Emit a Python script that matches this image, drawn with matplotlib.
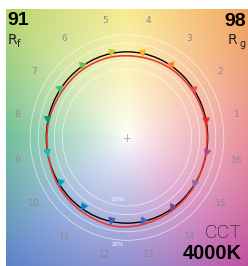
import numpy as np
import matplotlib
matplotlib.use("Agg")
import matplotlib.pyplot as plt
from matplotlib.path import Path
from matplotlib.patches import PathPatch, Circle

# TM-30 Kennwerte
rf_value = "91"
rg_value = "98"
cct_label = "4000K"

# 16 Hue-Bins: Chroma-Verhaeltnis Test/Referenz und Hue-Verschiebung
hue_bins = list(range(1, 17))
chroma_ratio = [0.99, 0.98, 0.97, 0.955, 0.96, 0.965, 0.97, 0.99,
                1.00, 1.02, 1.03, 1.045, 1.035, 1.02, 1.01, 0.995]
hue_shift_deg = [-3, -3, -2, -1, 1, 2, 2, 2, 2, 1, 0, 0, -2, -2, -2, -2]
bin_colors = ["#E62828", "#E74B4B", "#FB812E", "#FFB529", "#CBCA46", "#7EB94C",
              "#41C06D", "#009C7C", "#16BCB0", "#00A4BF", "#0085C3", "#3B62AA",
              "#4568AE", "#6A4E85", "#9D69A1", "#A74F81"]

ring_radii = [0.8, 0.9, 1.1, 1.2]

# Hintergrundfarben (Winkel in Grad, RGB bei voller Saettigung)
bg_angles = [0, 45, 90, 135, 180, 225, 270, 315, 360]
bg_rgb = [(225, 109, 122), (242, 163, 90), (246, 229, 109), (181, 212, 106),
          (65, 171, 122), (90, 130, 200), (107, 107, 193), (192, 79, 160), (225, 109, 122)]

W, H = 248, 266
fig = plt.figure(figsize=(W / 100, H / 100), dpi=100)
ax = fig.add_axes([6 / W, 0, 242 / W, 257 / H])
ax.set_xlim(-1.5, 1.5)
ax.set_ylim(-1.5, 1.5)
ax.axis("off")

# Hintergrund
n = 300
xs = np.linspace(-1.5, 1.5, n)
X, Y = np.meshgrid(xs, xs[::-1])
R = np.hypot(X, Y)
A = np.degrees(np.arctan2(Y, X)) % 360
bg = np.array(bg_rgb, dtype=float) / 255
img = np.zeros((n, n, 3))
for k in range(3):
    img[..., k] = np.interp(A, bg_angles, bg[:, k])
s = np.clip(R / 2.12, 0, 1) ** 0.8
img = 1 - s[..., None] * (1 - img)
ax.imshow(img, extent=(-1.5, 1.5, -1.5, 1.5), aspect="auto", zorder=0)

# Ringe
for r in ring_radii:
    ax.add_patch(Circle((0, 0), r, fill=False, ec="white", lw=0.6, alpha=0.6, zorder=1))
ax.text(-0.11, -0.72, "-20%", color="white", fontsize=4, ha="center", va="center", zorder=2)
ax.text(-0.11, -1.25, "20%", color="white", fontsize=4, ha="center", va="center", zorder=2)
ax.plot([-0.04, 0.04], [0, 0], color="#aaaaaa", lw=0.6)
ax.plot([0, 0], [-0.04, 0.04], color="#aaaaaa", lw=0.6)

# Referenzkreis
ax.add_patch(Circle((0, 0), 1.0, fill=False, ec="black", lw=1.0, zorder=3))

# Testkurve
theta = np.radians(11.25 + 22.5 * np.arange(16))
theta_t = theta + np.radians(hue_shift_deg)
cr = np.array(chroma_ratio)
tx = cr * np.cos(theta_t)
ty = cr * np.sin(theta_t)
pts = np.column_stack([tx, ty])
verts = [pts[0]]
codes = [Path.MOVETO]
for i in range(16):
    p0, p1, p2, p3 = pts[i - 1], pts[i], pts[(i + 1) % 16], pts[(i + 2) % 16]
    verts += [p1 + (p2 - p0) / 6, p2 - (p3 - p1) / 6, p2]
    codes += [Path.CURVE4] * 3
ax.add_patch(PathPatch(Path(verts, codes), fill=False, ec="#e8392f", lw=1.2, zorder=4))

# Pfeile
for i in range(16):
    ax.annotate("", xy=(tx[i], ty[i]), xytext=(np.cos(theta[i]), np.sin(theta[i])),
                arrowprops=dict(arrowstyle="-|>,head_length=0.7,head_width=0.35",
                                color=bin_colors[i], lw=0.7,
                                mutation_scale=6.5, shrinkA=0, shrinkB=0), zorder=5)

# Bin-Nummern
for i, b in enumerate(hue_bins):
    ax.text(1.39 * np.cos(theta[i]), 1.39 * np.sin(theta[i]), str(b), color="#8a8a8a",
            fontsize=6.5, ha="center", va="center", zorder=2)

# Ecktexte
T = ax.transAxes
ax.text(0.006, 0.99, rf_value, transform=T, fontsize=14, fontweight="bold",
        family="Liberation Sans", ha="left", va="top")
ax.text(0.006, 0.905, "R", transform=T, fontsize=10, color="#222222",
        family="DejaVu Sans", ha="left", va="top")
ax.text(0.045, 0.885, "f", transform=T, fontsize=7, color="#222222",
        family="DejaVu Sans", ha="left", va="top")
ax.text(0.99, 0.985, rg_value, transform=T, fontsize=14, fontweight="bold",
        family="Liberation Sans", ha="right", va="top")
ax.text(0.955, 0.905, "R", transform=T, fontsize=10, color="#222222",
        family="DejaVu Sans", ha="right", va="top")
ax.text(0.99, 0.885, "g", transform=T, fontsize=7, color="#222222",
        family="DejaVu Sans", ha="right", va="top")
ax.text(0.975, 0.095, "CCT", transform=T, fontsize=14, fontweight="light",
        family="Roboto", ha="right", va="bottom", color="#111111")
ax.text(0.975, 0.012, cct_label, transform=T, fontsize=14.5, fontweight="bold",
        family="Liberation Sans", ha="right", va="bottom")

fig.savefig("out.png", dpi=100)
